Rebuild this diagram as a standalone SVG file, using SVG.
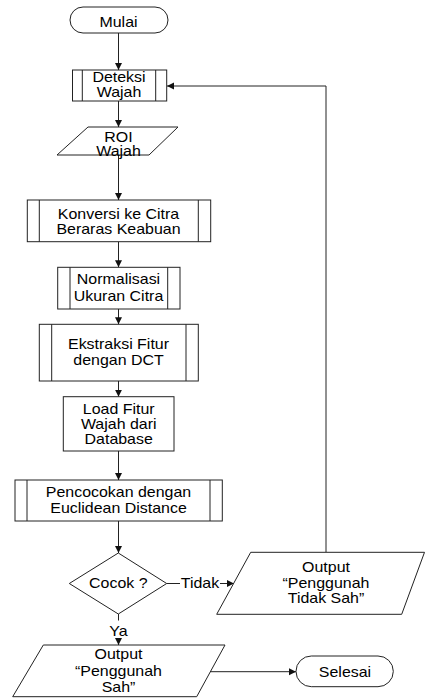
<svg xmlns="http://www.w3.org/2000/svg" width="425" height="698" viewBox="0 0 425 698">
<defs>
<marker id="ah" markerUnits="userSpaceOnUse" markerWidth="8" markerHeight="8" refX="7" refY="3.5" orient="auto">
<path d="M0,0 L7,3.5 L0,7 Z" fill="#111"/>
</marker>
<style>
.s{fill:#fff;stroke:#222;stroke-width:1}
.l{fill:none;stroke:#222;stroke-width:1}
.a{fill:none;stroke:#222;stroke-width:1;marker-end:url(#ah)}
text{font-family:"Liberation Sans",Arial,sans-serif;font-size:14px;fill:#000;text-anchor:middle}
</style>
</defs>
<rect width="425" height="698" fill="#fff"/>
<g id="connectors">
<line class="a" x1="118.5" y1="33" x2="118.5" y2="70"/>
<line class="a" x1="118.5" y1="101" x2="118.5" y2="127"/>
<line class="a" x1="118.5" y1="155" x2="118.5" y2="200"/>
<line class="a" x1="118.5" y1="241.7" x2="118.5" y2="267.3"/>
<line class="a" x1="118.5" y1="309" x2="118.5" y2="324.3"/>
<line class="a" x1="118.5" y1="381" x2="118.5" y2="396.7"/>
<line class="a" x1="118.5" y1="451" x2="118.5" y2="480"/>
<line class="a" x1="118.5" y1="521" x2="118.5" y2="553"/>
<line class="l" x1="166.7" y1="583.5" x2="180" y2="583.5"/>
<line class="a" x1="220" y1="583.5" x2="234" y2="583.5"/>
<polyline class="a" points="326,552.3 326,86 167,86"/>
<line class="l" x1="118.5" y1="614" x2="118.5" y2="620.5"/>
<line class="a" x1="118.5" y1="638" x2="118.5" y2="645"/>
<line class="a" x1="210.4" y1="671.7" x2="296" y2="671.7"/>
<text transform="translate(200,588) scale(1.14,1)">Tidak</text>
<text transform="translate(118.5,636) scale(1.14,1)">Ya</text>
</g>
<g id="mulai">
<rect class="s" x="70" y="7" width="98" height="26" rx="13"/>
<text transform="translate(118.5,26.5) scale(1.14,1)">Mulai</text>
</g>
<g id="deteksi">
<rect class="s" x="72.5" y="70" width="94.2" height="31"/>
<line class="l" x1="82.3" y1="70" x2="82.3" y2="101"/>
<line class="l" x1="155.7" y1="70" x2="155.7" y2="101"/>
<text transform="translate(119,82) scale(1.14,1)"><tspan x="0">Deteksi</tspan><tspan x="0" dy="14.7">Wajah</tspan></text>
</g>
<g id="roi">
<polygon class="s" points="88,127 178,127 149,155 57,155"/>
<text transform="translate(118.5,141.7) scale(1.14,1)"><tspan x="0">ROI</tspan><tspan x="0" dy="14.5">Wajah</tspan></text>
</g>
<g id="konversi">
<rect class="s" x="27.3" y="200" width="183.4" height="41.7"/>
<line class="l" x1="39.3" y1="200" x2="39.3" y2="241.7"/>
<line class="l" x1="198.3" y1="200" x2="198.3" y2="241.7"/>
<text transform="translate(118.5,219) scale(1.14,1)"><tspan x="0">Konversi ke Citra</tspan><tspan x="0" dy="14.7">Beraras Keabuan</tspan></text>
</g>
<g id="normalisasi">
<rect class="s" x="57.7" y="267.3" width="122.3" height="41.7"/>
<line class="l" x1="70" y1="267.3" x2="70" y2="309"/>
<line class="l" x1="167.7" y1="267.3" x2="167.7" y2="309"/>
<text transform="translate(118.5,284.3) scale(1.14,1)"><tspan x="0">Normalisasi</tspan><tspan x="0" dy="16.5">Ukuran Citra</tspan></text>
</g>
<g id="ekstraksi">
<rect class="s" x="39.3" y="324.3" width="159" height="56.7"/>
<line class="l" x1="51.7" y1="324.3" x2="51.7" y2="381"/>
<line class="l" x1="186" y1="324.3" x2="186" y2="381"/>
<text transform="translate(118.5,349.3) scale(1.14,1)"><tspan x="0">Ekstraksi Fitur</tspan><tspan x="0" dy="15.7">dengan DCT</tspan></text>
</g>
<g id="load">
<rect class="s" x="63.3" y="396.7" width="110.7" height="54.3"/>
<text transform="translate(118.7,413.5) scale(1.14,1)"><tspan x="0">Load Fitur</tspan><tspan x="0" dy="15.5">Wajah dari</tspan><tspan x="0" dy="15.5">Database</tspan></text>
</g>
<g id="pencocokan">
<rect class="s" x="15" y="480" width="207.3" height="41"/>
<line class="l" x1="27" y1="480" x2="27" y2="521"/>
<line class="l" x1="210" y1="480" x2="210" y2="521"/>
<text transform="translate(118.5,496.7) scale(1.14,1)"><tspan x="0">Pencocokan dengan</tspan><tspan x="0" dy="16">Euclidean Distance</tspan></text>
</g>
<g id="cocok">
<polygon class="s" points="118.3,553 166.7,583.5 118.3,614 69.3,583.5"/>
<text transform="translate(118.3,588.3) scale(1.14,1)">Cocok ?</text>
</g>
<g id="tidaksah">
<polygon class="s" points="250.7,552.3 424.5,552.3 401.7,614.3 216.7,614.3"/>
<text transform="translate(326,571.7) scale(1.14,1)"><tspan x="0">Output</tspan><tspan x="0" dy="16">“Penggunah</tspan><tspan x="0" dy="15.6">Tidak Sah”</tspan></text>
</g>
<g id="sah">
<polygon class="s" points="43.3,645 225,645 196.7,696.7 12.7,696.7"/>
<text transform="translate(118.5,659.3) scale(1.14,1)"><tspan x="0">Output</tspan><tspan x="0" dy="16.5">“Penggunah</tspan><tspan x="0" dy="16.5">Sah”</tspan></text>
</g>
<g id="selesai">
<rect class="s" x="296" y="656" width="97.3" height="30.7" rx="15.3"/>
<text transform="translate(345,676.5) scale(1.14,1)">Selesai</text>
</g>
</svg>
